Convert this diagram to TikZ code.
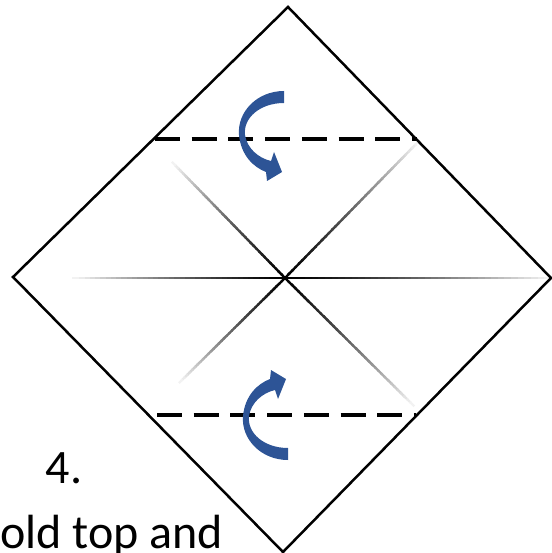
\documentclass[tikz,border=0pt]{standalone}
\usepackage{fontspec}
\setmainfont{Carlito}
\usepackage{tikz}
\usetikzlibrary{calc}

\definecolor{foldblue}{RGB}{45,84,150}

\begin{document}
\begin{tikzpicture}[x=1pt, y=-1pt,
  edge/.style={line width=2.5pt, line join=miter},
  foldline/.style={line width=3.6pt, dash pattern=on 25pt off 11.7pt},
  crease/.style={line width=2.4pt, line cap=butt},
  caption/.style={anchor=base west, inner sep=0pt,
    font=\fontsize{48}{58}\selectfont},
  foldarrow/.pic={
    \fill[foldblue] (284,91) .. controls (257,91) and (237,112) .. (239,135)
      .. controls (241,155) and (253,167) .. (266,172)
      -- (267,181) -- (282,172) -- (274,152) -- (271,161)
      .. controls (258,158) and (247,148) .. (245,135)
      .. controls (243,118) and (260,103) .. (284,103) -- cycle;
  }]
\useasboundingbox (0,0) rectangle (551,553);
% Corners of the square
\coordinate (top) at (288,7);
\coordinate (right) at (551,278);
\coordinate (bottom) at (283,552);
\coordinate (left) at (13,277);
\coordinate (c) at (285,278);
% Crease ends
\coordinate (hl) at (74,278);
\coordinate (hr) at (551,278);
\coordinate (al) at (173,163);
\coordinate (ar) at (413,405);
\coordinate (bl) at (180,382);
\coordinate (br) at (418,142);
% Faded creases
\foreach \e in {hl,hr,al,ar,bl,br}
  \foreach \i in {0,...,39}{
    \pgfmathtruncatemacro\ink{100-95*(\i/39)^1.3}
    \pgfmathsetmacro\tnext{(\i+1.4)/40}
    \draw[crease, black!\ink] ($(c)!\i/40!(\e)$) -- ($(c)!\tnext!(\e)$);
  }
% Square
\draw[edge] (top) -- (right) -- (bottom) -- (left) -- cycle;
% Fold lines
\coordinate (upa) at (155,139);
\coordinate (upb) at (417,139);
\coordinate (lowa) at (157,415);
\coordinate (lowb) at (416,415);
\draw[foldline] (upa) -- (upb);
\draw[foldline] (lowa) -- (lowb);
% Fold arrows
\pic at (0,0) {foldarrow};
\begin{scope}[shift={(4,551)}, yscale=-1, transform shape]
  \pic at (0,0) {foldarrow};
\end{scope}
% Step text
\node[caption] (stepnum) at (45.5,483) {4.};
\node[caption] (steptext) at (0,548) {old top and};
\end{tikzpicture}
\end{document}
